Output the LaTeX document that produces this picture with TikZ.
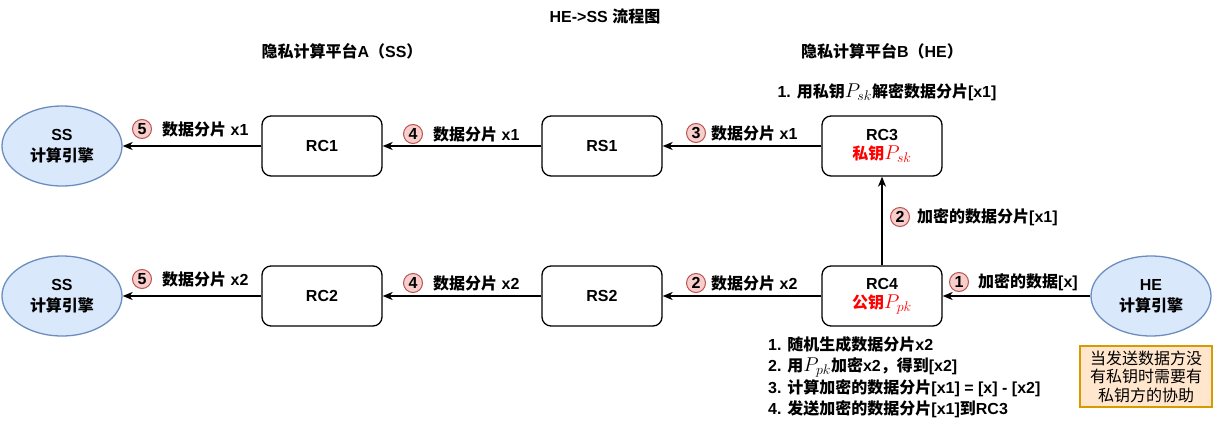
\RequirePackage{fix-cm}
\documentclass[tikz,border=0pt]{standalone}
\usepackage{fontspec}
\setmainfont{Liberation Sans}
\newfontfamily\cjk{Noto Sans CJK SC}
\usetikzlibrary{arrows.meta,shapes.geometric}
\definecolor{engF}{RGB}{218,232,252}
\definecolor{engD}{RGB}{108,142,191}
\definecolor{numF}{RGB}{248,206,204}
\definecolor{numD}{RGB}{184,84,80}
\definecolor{noteF}{RGB}{255,230,204}
\definecolor{noteD}{RGB}{215,155,0}
\definecolor{keyred}{RGB}{255,0,0}
\newcommand\keyP[1]{{\fontsize{20}{20}\selectfont$P_{#1}$}}
\tikzset{
  base/.style={font=\fontsize{16}{19}\selectfont\bfseries},
  rcbox/.style={base, draw, line width=1.3pt, rounded corners=9pt, minimum width=120pt, minimum height=60pt, align=center, inner sep=1pt},
  eng/.style={base, ellipse, draw=engD, fill=engF, line width=1.3pt, minimum width=120pt, minimum height=80pt, align=center, inner sep=0pt},
  arr/.style={line width=1.3pt, -{Stealth[length=10pt,width=8pt,inset=3pt]}},
  numc/.style={base, circle, draw=numD, fill=numF, line width=1pt, minimum size=19pt, inner sep=0pt},
  lbl/.style={base, anchor=west, inner sep=0pt},
  ttl/.style={base, inner sep=0pt}
}
\begin{document}
\begin{tikzpicture}[x=1pt,y=-1pt]
\useasboundingbox (0,0) rectangle (1213,423);

% titles
\node[ttl] (title) at (605,16) {HE->SS {\cjk 流程图}};
\node[ttl] (platA) at (342,51) {{\cjk 隐私计算平台}A{\cjk （}SS{\cjk ）}};
\node[ttl] (platB) at (882,51) {{\cjk 隐私计算平台}B{\cjk （}HE{\cjk ）}};

% top row
\node[eng] (SS1) at (62,146) {SS\\[2pt]{\cjk 计算引擎}};
\node[rcbox] (RC1) at (322,146) {RC1};
\node[rcbox] (RS1) at (602,146) {RS1};
\node[rcbox] (RC3) at (882,146) {RC3\\[0pt]\textcolor{keyred}{{\cjk 私钥}\keyP{sk}}};

% bottom row
\node[eng] (SS2) at (62,296) {SS\\[2pt]{\cjk 计算引擎}};
\node[rcbox] (RC2) at (322,296) {RC2};
\node[rcbox] (RS2) at (602,296) {RS2};
\node[rcbox] (RC4) at (882,296) {RC4\\[0pt]\textcolor{keyred}{{\cjk 公钥}\keyP{pk}}};
\node[eng] (HE) at (1151,296) {HE\\[2pt]{\cjk 计算引擎}};

% connectors
\draw[arr] (RC1.west) -- (SS1.east);
\draw[arr] (RS1.west) -- (RC1.east);
\draw[arr] (RC3.west) -- (RS1.east);
\draw[arr] (RC4.north) -- (RC3.south);
\draw[arr] (HE.west) -- (RC4.east);
\draw[arr] (RC4.west) -- (RS2.east);
\draw[arr] (RS2.west) -- (RC2.east);
\draw[arr] (RC2.west) -- (SS2.east);

% edge labels top
\node[numc] (c5a) at (142,129) {5};
\node[lbl] (t5a) at (162,129) {{\cjk 数据分片} x1};
\node[numc] (c4a) at (413,134) {4};
\node[lbl] (t4a) at (433,134) {{\cjk 数据分片} x1};
\node[numc] (c3a) at (696,133) {3};
\node[lbl] (t3a) at (711,133) {{\cjk 数据分片} x1};
\node[numc] (c2v) at (900,217) {2};
\node[lbl] (t2v) at (917,217) {{\cjk 加密的数据分片}[x1]};

% edge labels bottom
\node[numc] (c5b) at (142,279) {5};
\node[lbl] (t5b) at (162,279) {{\cjk 数据分片} x2};
\node[numc] (c4b) at (413,283) {4};
\node[lbl] (t4b) at (433,283) {{\cjk 数据分片} x2};
\node[numc] (c2b) at (696,283) {2};
\node[lbl] (t2b) at (711,283) {{\cjk 数据分片} x2};
\node[numc] (c1b) at (959,282) {1};
\node[lbl] (t1b) at (978,282) {{\cjk 加密的数据}[x]};

% notes
\node[ttl] (noteRC3) at (887,92) {1. {\cjk 用私钥}\keyP{sk}{\cjk 解密数据分片}[x1]};
\node[base, anchor=north west, align=left, inner sep=0pt, font=\fontsize{16}{21.5}\selectfont\bfseries] (noteRC4) at (768,336)
 {1. {\cjk 随机生成数据分片}x2\\
  2. {\cjk 用}\keyP{pk}{\cjk 加密}x2{\cjk ，得到}[x2]\\
  3. {\cjk 计算加密的数据分片}[x1] = [x] - [x2]\\
  4. {\cjk 发送加密的数据分片}[x1]{\cjk 到}RC3};
\node[draw=noteD, fill=noteF, line width=1.3pt, minimum width=132pt, minimum height=61pt, inner sep=0pt, align=center, font=\fontsize{16}{18.5}\selectfont\mdseries\cjk] (help) at (1146,376.5)
 {当发送数据方没\\有私钥时需要有\\私钥方的协助};
\end{tikzpicture}
\end{document}
